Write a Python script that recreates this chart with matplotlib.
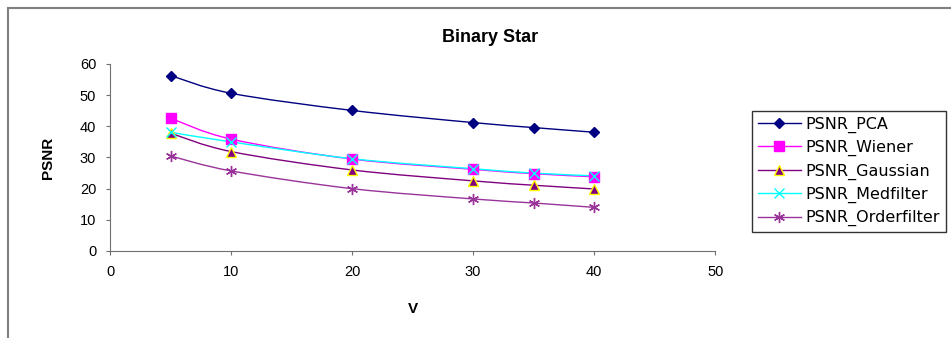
import matplotlib
matplotlib.use("Agg")
import matplotlib.pyplot as plt
from matplotlib.path import Path
from matplotlib.patches import PathPatch
from matplotlib.lines import Line2D

plt.rcParams['font.family'] = ['Liberation Sans', 'DejaVu Sans']

v = [5, 10, 20, 30, 35, 40]
psnr_pca = [56.3, 50.6, 45.1, 41.2, 39.6, 38.1]
psnr_wiener = [42.6, 35.9, 29.5, 26.2, 24.8, 23.8]
psnr_gaussian = [37.8, 31.9, 26.0, 22.5, 21.1, 19.9]
psnr_medfilter = [38.1, 35.0, 29.6, 26.4, 25.0, 24.1]
psnr_orderfilter = [30.5, 25.7, 20.0, 16.7, 15.4, 14.0]
names = ["PSNR_PCA", "PSNR_Wiener", "PSNR_Gaussian", "PSNR_Medfilter", "PSNR_Orderfilter"]


def smooth_path(xs, ys):
    # Catmull-Rom through the points, written as cubic bezier segments
    verts = [(xs[0], ys[0])]
    codes = [Path.MOVETO]
    n = len(xs)
    for i in range(n - 1):
        x0, y0 = (xs[i - 1], ys[i - 1]) if i > 0 else (xs[i], ys[i])
        x1, y1 = xs[i], ys[i]
        x2, y2 = xs[i + 1], ys[i + 1]
        x3, y3 = (xs[i + 2], ys[i + 2]) if i + 2 < n else (x2, y2)
        c1 = (x1 + (x2 - x0) / 6, y1 + (y2 - y0) / 6)
        c2 = (x2 - (x3 - x1) / 6, y2 - (y3 - y1) / 6)
        verts += [c1, c2, (x2, y2)]
        codes += [Path.CURVE4] * 3
    return Path(verts, codes)


fig = plt.figure(figsize=(9.51, 3.38), dpi=100)
ax = fig.add_axes([0.1157, 0.2574, 0.6363, 0.5533])

styles = [
    dict(color='#000080', marker='D', ms=5, mfc='#000080', mec='#000080'),
    dict(color='#FF00FF', marker='s', ms=7, mfc='#FF00FF', mec='#FF00FF'),
    dict(color='#800080', marker='^', ms=7, mfc='#800080', mec='#FFFF00'),
    dict(color='#00FFFF', marker='x', ms=7, mfc='#00FFFF', mec='#00FFFF'),
    dict(color='#993399', marker=(6, 2, 0), ms=8, mfc='#993399', mec='#993399'),
]
series = [psnr_pca, psnr_wiener, psnr_gaussian, psnr_medfilter, psnr_orderfilter]

handles = []
for ys, st, name in zip(series, styles, names):
    ax.add_patch(PathPatch(smooth_path(v, ys), fill=False, edgecolor=st['color'], lw=1.0))
    ax.plot(v, ys, linestyle='none', marker=st['marker'], ms=st['ms'],
            mfc=st['mfc'], mec=st['mec'], mew=1.0)
    handles.append(Line2D([], [], color=st['color'], lw=1.0, marker=st['marker'],
                          ms=st['ms'], mfc=st['mfc'], mec=st['mec'], mew=1.0, label=name))

ax.set_xlim(0, 50)
ax.set_ylim(0, 60)
ax.set_xticks(range(0, 51, 10))
ax.set_yticks(range(0, 61, 10))
ax.spines['right'].set_visible(False)
ax.spines['top'].set_visible(False)
ax.spines['left'].set_color('#707070')
ax.spines['bottom'].set_color('#707070')
ax.tick_params(labelsize=10.5, length=3, color='#707070', pad=7)
ax.set_xlabel('V', fontsize=11, fontweight='bold', labelpad=17)
ax.set_ylabel('PSNR', fontsize=11, fontweight='bold', labelpad=18)

fig.text(490 / 951, 1 - 37 / 338, 'Binary Star', ha='center', va='center',
         fontsize=13, fontweight='bold')

leg = fig.legend(handles=handles, loc='upper left', bbox_to_anchor=(752 / 951, 1 - 111 / 338),
                 prop={'family': 'DejaVu Sans', 'size': 11.5}, frameon=True, fancybox=False,
                 edgecolor='black', handlelength=2.7, borderpad=0.35, labelspacing=0.45,
                 handletextpad=0.3, borderaxespad=0)
leg.get_frame().set_linewidth(1.0)

# chart border
fig.add_artist(Line2D([8 / 951, 8 / 951], [0, 1 - 8 / 338], color='#808080', lw=1.5))
fig.add_artist(Line2D([8 / 951, 1], [1 - 8 / 338, 1 - 8 / 338], color='#808080', lw=1.5))

fig.savefig('out.png', dpi=100)
